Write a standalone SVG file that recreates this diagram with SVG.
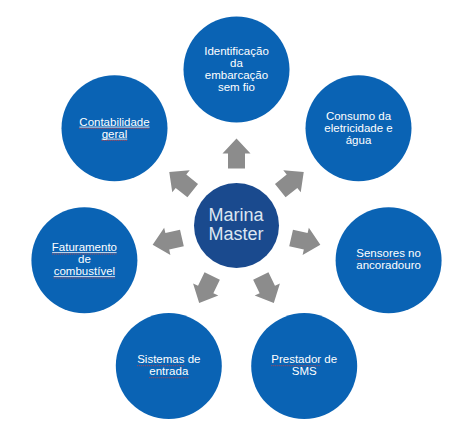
<svg xmlns="http://www.w3.org/2000/svg" width="474" height="435" viewBox="0 0 474 435">
<defs>
<style>
.outer{fill:#0a63b4}
.center{fill:#1a4a8e}
.lbl{font-family:"Liberation Sans",Arial,sans-serif;font-size:11.5px;fill:#ffffff;text-anchor:middle}
.clbl{font-family:"Liberation Sans",Arial,sans-serif;font-size:18px;fill:#dce6f2;text-anchor:middle}
.arrow{fill:#8c8c8c}
.spell{stroke:#d04040;stroke-width:0.9;stroke-dasharray:1 1;fill:none}
.ul{stroke:#ffffff;stroke-width:0.8}
</style>
<path id="blockArrow" d="M-15,-8.5 L0,-8.5 L0,-14 L15,0 L0,14 L0,8.5 L-15,8.5 Z"/>
</defs>
<rect width="474" height="435" fill="#ffffff"/>

<g id="connectors" class="arrow">
<use href="#blockArrow" transform="translate(236.5 225.5) rotate(-90) translate(72 0)"/>
<use href="#blockArrow" transform="translate(236.5 225.5) rotate(-38.571) translate(71 0)"/>
<use href="#blockArrow" transform="translate(236.5 225.5) rotate(12.857) translate(71 0)"/>
<use href="#blockArrow" transform="translate(236.5 225.5) rotate(64.286) translate(71 0)"/>
<use href="#blockArrow" transform="translate(236.5 225.5) rotate(115.714) translate(71 0)"/>
<use href="#blockArrow" transform="translate(236.5 225.5) rotate(167.143) translate(71 0)"/>
<use href="#blockArrow" transform="translate(236.5 225.5) rotate(-141.429) translate(71 0)"/>
</g>

<g id="node-center">
<circle class="center" cx="236.5" cy="225.5" r="42.5"/>
<text class="clbl" x="236" y="220.7">Marina</text>
<text class="clbl" x="236" y="240">Master</text>
</g>

<g id="node-identificacao">
<circle class="outer" cx="236.5" cy="69.5" r="53"/>
<text class="lbl" x="236.5" y="55">Identificação</text>
<text class="lbl" x="236.5" y="67">da</text>
<text class="lbl" x="236.5" y="79">embarcação</text>
<text class="lbl" x="236.5" y="91">sem fio</text>
</g>

<g id="node-consumo">
<circle class="outer" cx="358.5" cy="128.2" r="53"/>
<text class="lbl" x="358.5" y="119.7">Consumo da</text>
<text class="lbl" x="358.5" y="131.7">eletricidade e</text>
<text class="lbl" x="358.5" y="143.7">água</text>
</g>

<g id="node-sensores">
<circle class="outer" cx="388.6" cy="260.2" r="53"/>
<text class="lbl" x="388.6" y="256.7">Sensores no</text>
<text class="lbl" x="388.6" y="268.7">ancoradouro</text>
<line class="spell" x1="356.3" y1="259.4" x2="404.9" y2="259.4"/>
</g>

<g id="node-prestador">
<circle class="outer" cx="304.2" cy="366.1" r="53"/>
<text class="lbl" x="304.2" y="363">Prestador de</text>
<text class="lbl" x="304.2" y="375">SMS</text>
<line class="spell" x1="271.3" y1="365.7" x2="321.2" y2="365.7"/>
</g>

<g id="node-sistemas">
<circle class="outer" cx="168.8" cy="366.1" r="53"/>
<text class="lbl" x="168.8" y="363">Sistemas de</text>
<text class="lbl" x="168.8" y="375">entrada</text>
<line class="spell" x1="137.2" y1="365.7" x2="184.5" y2="365.7"/>
<line class="spell" x1="149.3" y1="377.7" x2="188.3" y2="377.7"/>
</g>

<g id="node-faturamento">
<circle class="outer" cx="84.4" cy="260.2" r="53"/>
<text class="lbl" x="84.4" y="251">Faturamento</text>
<text class="lbl" x="84.4" y="263">de</text>
<text class="lbl" x="84.4" y="275">combustível</text>
<line class="ul" x1="52.2" y1="252.6" x2="116.6" y2="252.6"/>
<line class="ul" x1="53.7" y1="276.6" x2="115.1" y2="276.6"/>
<line class="spell" x1="52.2" y1="254" x2="116.6" y2="254"/>
<line class="spell" x1="53.7" y1="278" x2="115.1" y2="278"/>
</g>

<g id="node-contabilidade">
<circle class="outer" cx="114.5" cy="128.2" r="53"/>
<text class="lbl" x="114.5" y="125.5">Contabilidade</text>
<text class="lbl" x="114.5" y="137.5">geral</text>
<line class="ul" x1="79.4" y1="127.1" x2="149.6" y2="127.1"/>
<line class="ul" x1="101.7" y1="139.1" x2="127.3" y2="139.1"/>
<line class="spell" x1="79.4" y1="128.5" x2="149.6" y2="128.5"/>
<line class="spell" x1="101.7" y1="140.5" x2="127.3" y2="140.5"/>
</g>
</svg>
